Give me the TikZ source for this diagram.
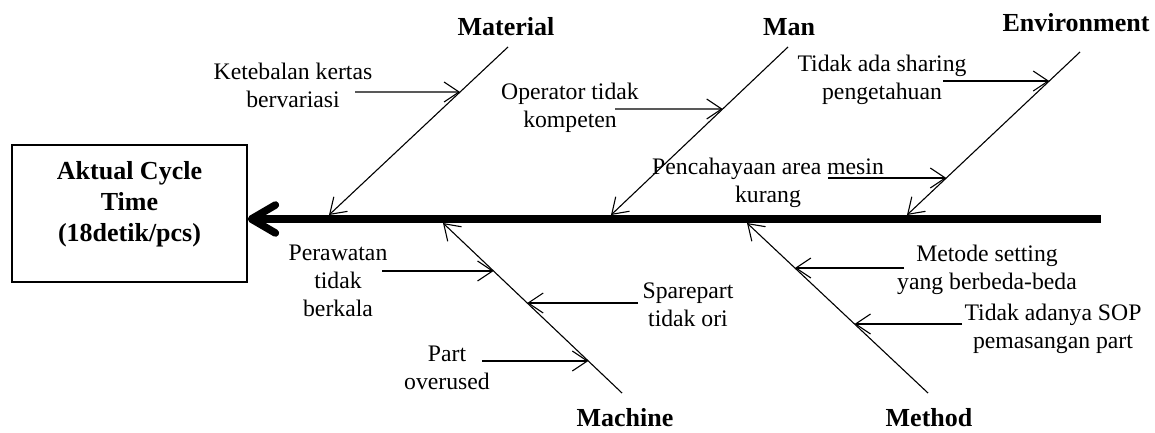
\documentclass[tikz,border=0pt]{standalone}
\usepackage{fontspec}
\setmainfont{Liberation Serif}
\usetikzlibrary{arrows.meta}
\begin{document}
\begin{tikzpicture}[x=1pt,y=-1pt,
  bone/.style={line width=1.1pt, -{Straight Barb[length=15pt,width=20pt]}},
  cause/.style={line width=1.1pt, -{Straight Barb[length=15pt,width=20pt]}},
  causetext/.style={font=\fontsize{23.7}{28}\selectfont, align=center, inner sep=0pt},
  category/.style={font=\fontsize{26}{31}\selectfont\bfseries, inner sep=0pt},
  effectbox/.style={draw, line width=1.3pt, minimum width=235pt, minimum height=137pt, inner sep=0pt},
  effecttext/.style={font=\fontsize{26}{31}\selectfont\bfseries, align=center, inner sep=0pt},
  spine/.style={line width=7.5pt, -{Straight Barb[length=24pt,width=28pt,round]}},
]
\useasboundingbox (0,0) rectangle (1155,432);

% effect box
\node[effectbox] (box) at (129.5,213.5) {};
\node[effecttext] (effect) at (129.5,204) {Aktual Cycle\\Time\\(18detik/pcs)};

% spine
\coordinate (spineEnd) at (1101,219);
\draw[spine] (spineEnd) -- (box.east |- spineEnd);

% category labels
\node[category] (material) at (506,27) {Material};
\node[category] (man) at (789,27) {Man};
\node[category] (environment) at (1076,23) {Environment};
\node[category] (machine) at (625,418) {Machine};
\node[category] (method) at (929,418) {Method};

% bones
\coordinate (matTop) at (508,47);   \coordinate (matTip) at (329,215);
\coordinate (manTop) at (788,47);   \coordinate (manTip) at (611,215);
\coordinate (envTop) at (1080,52);  \coordinate (envTip) at (907,215);
\coordinate (macBot) at (622,393);  \coordinate (macTip) at (443,223);
\coordinate (metBot) at (928,393);  \coordinate (metTip) at (747,223);
\draw[bone] (matTop) -- (matTip);
\draw[bone] (manTop) -- (manTip);
\draw[bone] (envTop) -- (envTip);
\draw[bone] (macBot) -- (macTip);
\draw[bone] (metBot) -- (metTip);

% cause texts
\node[causetext] (t1) at (293,85.5) {Ketebalan kertas\\bervariasi};
\node[causetext] (t2) at (570,107.5) {Operator tidak\\kompeten};
\node[causetext] (t3) at (882,79.5) {Tidak ada sharing\\pengetahuan};
\node[causetext] (t4) at (768,182.5) {Pencahayaan area mesin\\kurang};
\node[causetext] (t5) at (338,281) {Perawatan\\tidak\\berkala};
\node[causetext] (t6) at (688,304.5) {Sparepart\\tidak ori};
\node[causetext] (t7) at (447,367.5) {Part\\overused};
\node[causetext] (t8) at (987,270) {Metode setting\\yang berbeda-beda};
\node[causetext] (t9) at (1053,329) {Tidak adanya SOP\\pemasangan part};

% cause arrow ends
\coordinate (a1s) at (355,92);  \coordinate (a1e) at (intersection of matTop--matTip and 0,92--100,92);
\coordinate (a2s) at (615,109); \coordinate (a2e) at (intersection of manTop--manTip and 0,109--100,109);
\coordinate (a3s) at (943,81);  \coordinate (a3e) at (intersection of envTop--envTip and 0,81--100,81);
\coordinate (a4s) at (828,178); \coordinate (a4e) at (intersection of envTop--envTip and 0,178--100,178);
\coordinate (a5s) at (382,271); \coordinate (a5e) at (intersection of macBot--macTip and 0,271--100,271);
\coordinate (a6s) at (638,303); \coordinate (a6e) at (intersection of macBot--macTip and 0,303--100,303);
\coordinate (a7s) at (482,361); \coordinate (a7e) at (intersection of macBot--macTip and 0,361--100,361);
\coordinate (a8s) at (904,268); \coordinate (a8e) at (intersection of metBot--metTip and 0,268--100,268);
\coordinate (a9s) at (962,324); \coordinate (a9e) at (intersection of metBot--metTip and 0,324--100,324);

\foreach \i in {1,...,9} {\draw[cause] (a\i s) -- (a\i e);}
\end{tikzpicture}
\end{document}
